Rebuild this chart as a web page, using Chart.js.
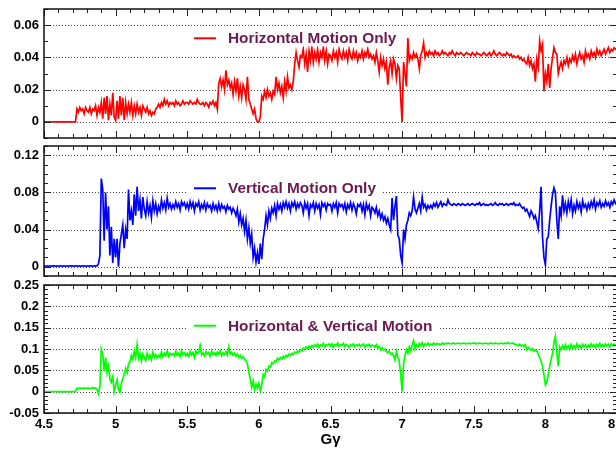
<!DOCTYPE html>
<html><head><meta charset="utf-8">
<script src="https://cdn.jsdelivr.net/npm/chart.js@4.4.0/dist/chart.umd.min.js"></script>
<style>
html,body{margin:0;padding:0;background:#fff;overflow:hidden;width:616px;height:449px;position:relative;}
canvas{position:absolute;left:0;}
</style></head><body>
<canvas id="c1" width="640" height="142" style="top:0px;width:640px;height:142px"></canvas>
<canvas id="c2" width="640" height="137" style="top:142px;width:640px;height:137px"></canvas>
<canvas id="c3" width="640" height="173" style="top:276px;width:640px;height:173px"></canvas>
<script>
// Sampling grid of G-gamma (x) values
const gammaStart = 4.5, gammaStep = 0.01;

// Panel 1 : Horizontal Motion Only (4.50 ... 8.50, one row per 0.1)
const horizontalOnly = [
0,0,0,0,0,0,0,0,0,0,
0,0,0,0,0,0,0,0,0,0,
0,0,0,.008,.006,.009,.007,.008,.005,.009,
.007,.006,.009,.005,.008,.007,.010,.004,.009,.006,
.012,.002,.015,.005,.016,.001,.011,.004,.018,.003,
.001,.013,.002,.016,.004,.015,.001,.012,.005,.011,
.006,.012,.004,.010,.005,.011,.006,.009,.004,.010,
.008,.006,.009,.005,.007,.004,.006,.005,.008,.009,
.011,.009,.012,.010,.014,.011,.013,.010,.012,.011,
.012,.010,.013,.011,.012,.010,.011,.013,.011,.012,
.012,.011,.013,.012,.011,.012,.011,.014,.012,.011,
.011,.012,.010,.012,.011,.009,.012,.011,.013,.010,
.012,.008,.024,.027,.022,.026,.020,.032,.023,.026,
.021,.024,.017,.025,.019,.027,.016,.022,.015,.023,
.020,.014,.028,.014,.011,.008,.005,.008,.002,.000,
.000,.003,.016,.014,.019,.015,.020,.016,.018,.014,
.019,.017,.028,.020,.024,.018,.022,.015,.025,.019,
.028,.021,.023,.020,.025,.036,.043,.038,.034,.041,
.040,.045,.036,.042,.031,.044,.038,.046,.037,.043,
.039,.045,.037,.043,.040,.046,.038,.044,.036,.042,
.041,.038,.044,.040,.043,.037,.045,.041,.039,.044,
.040,.043,.038,.045,.041,.039,.044,.040,.043,.038,
.042,.040,.044,.039,.043,.041,.045,.040,.042,.039,
.041,.037,.043,.038,.031,.040,.035,.039,.033,.037,
.023,.034,.038,.030,.039,.036,.027,.035,.033,.015,
.000,.037,.030,.022,.052,.038,.041,.039,.043,.040,
.042,.039,.033,.041,.044,.049,.040,.043,.041,.044,
.042,.043,.041,.044,.042,.043,.041,.042,.044,.042,
.043,.042,.041,.043,.042,.044,.042,.041,.043,.042,
.042,.043,.042,.041,.042,.043,.042,.042,.041,.043,
.042,.041,.043,.042,.042,.041,.042,.043,.042,.041,
.042,.043,.041,.042,.044,.042,.041,.042,.043,.042,
.041,.042,.041,.043,.042,.041,.042,.040,.041,.040,
.040,.041,.039,.040,.038,.039,.037,.036,.040,.035,
.038,.033,.036,.025,.039,.034,.050,.044,.048,.019,
.030,.025,.036,.021,.033,.040,.046,.043,.042,.030,
.034,.037,.033,.038,.036,.040,.035,.039,.037,.041,
.038,.042,.036,.040,.043,.039,.041,.037,.044,.040,
.042,.039,.044,.041,.043,.040,.045,.042,.044,.041,
.043,.045,.042,.044,.046,.043,.045,.044,.046,.045,
.046];

// Panel 2 : Vertical Motion Only
const verticalOnly = [
.001,.0005,.001,.0005,.001,.0005,.001,.001,.0005,.001,
.0005,.001,.001,.0005,.001,.0005,.001,.0005,.001,.001,
.001,.0005,.001,.001,.0005,.001,.0005,.001,.001,.0005,
.001,.0005,.001,.001,.0005,.001,.001,.001,.003,.012,
.095,.083,.028,.080,.040,.065,.012,.043,.004,.030,
.010,.030,.000,.025,.035,.045,.020,.040,.030,.083,
.050,.060,.045,.078,.055,.086,.060,.072,.052,.075,
.062,.055,.070,.058,.066,.053,.071,.060,.068,.057,
.065,.060,.072,.063,.069,.061,.074,.064,.068,.062,
.067,.063,.070,.064,.068,.061,.070,.066,.069,.063,
.068,.062,.070,.064,.069,.060,.068,.065,.070,.061,
.067,.063,.069,.061,.068,.064,.066,.060,.068,.062,
.066,.060,.068,.061,.067,.063,.065,.059,.066,.062,
.064,.058,.063,.060,.055,.062,.048,.057,.045,.052,
.038,.050,.030,.042,.025,.035,.010,.020,.005,.015,
.003,.025,.008,.030,.040,.055,.045,.060,.052,.063,
.058,.066,.055,.068,.062,.067,.060,.069,.064,.070,
.063,.068,.060,.069,.065,.070,.062,.068,.064,.069,
.066,.058,.069,.063,.068,.055,.067,.064,.069,.060,
.068,.063,.067,.056,.069,.065,.068,.061,.068,.066,
.067,.060,.068,.064,.069,.058,.068,.065,.067,.062,
.068,.059,.067,.063,.069,.061,.068,.064,.057,.067,
.065,.068,.060,.067,.056,.068,.062,.066,.055,.064,
.062,.058,.064,.055,.060,.052,.057,.050,.054,.047,
.052,.045,.040,.074,.050,.065,.076,.034,.030,.012,
.004,.040,.030,.045,.050,.058,.055,.060,.075,.062,
.058,.063,.068,.060,.075,.064,.067,.061,.066,.063,
.066,.063,.068,.065,.069,.064,.067,.070,.065,.068,
.067,.066,.072,.068,.067,.066,.068,.067,.066,.068,
.067,.066,.068,.067,.066,.067,.068,.066,.067,.068,
.067,.066,.068,.067,.069,.066,.067,.068,.066,.067,
.066,.067,.068,.066,.067,.069,.067,.066,.068,.067,
.068,.066,.067,.068,.066,.067,.068,.067,.069,.066,
.067,.066,.068,.065,.063,.064,.060,.062,.058,.054,
.060,.057,.052,.055,.048,.041,.060,.086,.032,.010,
.002,.030,.032,.050,.065,.078,.085,.080,.050,.030,
.065,.055,.077,.060,.068,.058,.070,.062,.072,.057,
.066,.060,.070,.063,.068,.059,.071,.064,.067,.061,
.068,.063,.070,.065,.072,.062,.069,.066,.071,.064,
.068,.065,.071,.066,.069,.064,.070,.067,.072,.068,
.070];

// Panel 3 : Horizontal & Vertical Motion
const horizVertical = [
0,0,0,0,0,0,0,0,0,0,
0,0,0,0,0,0,0,0,0,0,
0,0,0,.008,.007,.009,.008,.007,.009,.008,
.008,.009,.007,.008,.010,.008,.009,.006,-.005,.012,
.100,.088,.048,.080,.045,.060,.030,.022,.035,.000,
.015,.028,.005,-.001,.020,.030,.040,.055,.045,.065,
.070,.085,.075,.095,.080,.110,.078,.090,.072,.088,
.080,.073,.090,.078,.086,.075,.092,.080,.087,.079,
.085,.080,.093,.082,.090,.084,.095,.083,.090,.086,
.089,.083,.095,.085,.090,.082,.096,.087,.091,.084,
.090,.083,.094,.086,.092,.080,.095,.088,.093,.108,
.086,.091,.084,.094,.088,.092,.083,.095,.087,.091,
.085,.093,.088,.096,.084,.091,.087,.094,.086,.105,
.088,.092,.085,.090,.083,.088,.080,.085,.078,.082,
.076,.072,.065,.045,.030,.010,.025,.005,.018,.008,
.020,.002,.015,.040,.035,.052,.048,.060,.058,.068,
.065,.072,.070,.078,.074,.080,.077,.083,.079,.085,
.082,.088,.085,.090,.087,.093,.090,.095,.092,.098,
.096,.102,.099,.105,.101,.107,.103,.108,.104,.110,
.106,.111,.104,.110,.107,.113,.105,.110,.108,.112,
.107,.112,.104,.110,.108,.114,.106,.110,.109,.113,
.105,.111,.108,.103,.110,.107,.112,.106,.110,.108,
.111,.106,.109,.112,.104,.110,.107,.111,.105,.109,
.108,.104,.110,.102,.106,.098,.103,.097,.100,.094,
.092,.095,.088,.090,.085,.074,.094,.080,.070,.040,
.000,.065,.085,.098,.090,.105,.095,.110,.120,.100,
.110,.105,.113,.108,.115,.106,.112,.109,.114,.108,
.112,.109,.114,.110,.113,.111,.112,.110,.114,.111,
.113,.112,.114,.113,.112,.113,.114,.112,.113,.114,
.113,.112,.113,.114,.113,.112,.113,.113,.112,.114,
.113,.114,.112,.113,.114,.113,.112,.113,.114,.113,
.112,.113,.114,.113,.112,.114,.113,.112,.113,.114,
.113,.112,.114,.113,.115,.112,.113,.114,.112,.111,
.110,.108,.111,.107,.109,.106,.110,.098,.104,.100,
.097,.101,.095,.098,.096,.088,.080,.072,.060,.040,
.016,.022,.040,.060,.075,.090,.115,.130,.090,.060,
.105,.098,.108,.100,.110,.102,.107,.099,.111,.103,
.108,.101,.112,.104,.109,.102,.111,.105,.110,.103,
.109,.104,.112,.106,.110,.103,.111,.107,.113,.105,
.110,.106,.112,.107,.111,.105,.112,.108,.111,.109,
.110];

const seriesLabels = ['Horizontal Motion Only', 'Vertical Motion Only', 'Horizontal & Vertical Motion'];
const xTickValues = [4.5, 5, 5.5, 6, 6.5, 7, 7.5, 8, 8.5];
const xTickLabels = ['4.5', '5', '5.5', '6', '6.5', '7', '7.5', '8', '8.5'];
const xTitle = 'G\u03B3';
const yTicks1 = [0, 0.02, 0.04, 0.06];
const yLabels1 = ['0', '0.02', '0.04', '0.06'];
const yTicks2 = [0, 0.04, 0.08, 0.12];
const yLabels2 = ['0', '0.04', '0.08', '0.12'];
const yTicks3 = [-0.05, 0, 0.05, 0.1, 0.15, 0.2, 0.25];
const yLabels3 = ['-0.05', '0', '0.05', '0.1', '0.15', '0.2', '0.25'];

const FONT = "'Liberation Sans', Arial, Helvetica, sans-serif";

function toPoints(vals) {
  return vals.map((v, i) => ({ x: +(gammaStart + i * gammaStep).toFixed(2), y: v }));
}

const rootFrame = {
  id: 'rootFrame',
  beforeDatasetsDraw(chart, _a, o) {
    const { ctx, chartArea: a } = chart;
    const y = chart.scales.y;
    ctx.save();
    ctx.strokeStyle = '#444';
    ctx.lineWidth = 1;
    ctx.setLineDash([1, 2]);
    o.grid.forEach(v => {
      const py = Math.round(y.getPixelForValue(v)) + 0.5;
      ctx.beginPath(); ctx.moveTo(a.left, py); ctx.lineTo(a.right, py); ctx.stroke();
    });
    ctx.restore();
  },
  afterDraw(chart, _a, o) {
    const { ctx, chartArea: a } = chart;
    const x = chart.scales.x, y = chart.scales.y;
    const ds = chart.data.datasets[0];
    ctx.save();
    // legend
    ctx.font = 'bold 15.4px ' + FONT;
    const tw = ctx.measureText(ds.label).width;
    ctx.fillStyle = '#fff';
    ctx.fillRect(186, o.legendY - 8, 228 + tw + 6 - 186, 16);
    ctx.strokeStyle = ds.borderColor; ctx.lineWidth = 2;
    ctx.beginPath(); ctx.moveTo(194, o.legendY); ctx.lineTo(216, o.legendY); ctx.stroke();
    ctx.fillStyle = '#6b1a4f';
    ctx.textBaseline = 'alphabetic'; ctx.textAlign = 'left';
    ctx.fillText(ds.label, 228, o.legendY + 5);
    // ticks
    ctx.strokeStyle = '#222'; ctx.lineWidth = 1;
    const seg = (x0, y0, x1, y1) => { ctx.beginPath(); ctx.moveTo(x0, y0); ctx.lineTo(x1, y1); ctx.stroke(); };
    for (let k = Math.round(x.min / 0.1); k * 0.1 <= x.max + 1e-9; k++) {
      const v = k * 0.1;
      const px = Math.round(x.getPixelForValue(v)) + 0.5;
      const major = Math.abs(v / 0.5 - Math.round(v / 0.5)) < 1e-6;
      const len = major ? 7 : 4;
      seg(px, a.bottom, px, a.bottom - len);
      seg(px, a.top, px, a.top + len);
    }
    for (let k = Math.ceil(y.min / 0.01 - 1e-6); k * 0.01 <= y.max + 1e-9; k++) {
      const v = k * 0.01;
      const py = Math.round(y.getPixelForValue(v)) + 0.5;
      const major = Math.abs(v / o.major - Math.round(v / o.major)) < 1e-6;
      const len = major ? 7 : 4;
      seg(a.left, py, a.left + len, py);
      seg(a.right, py, a.right - len, py);
    }
    // frame
    ctx.lineWidth = 1.5; ctx.strokeStyle = '#111';
    ctx.strokeRect(a.left, a.top, a.right - a.left, a.bottom - a.top);
    ctx.restore();
  }
};

function makeChart(id, vals, label, color, yMin, yMax, yTicks, yLabels, major, legendY, padTop, padBottom, showX) {
  return new Chart(document.getElementById(id), {
    type: 'line',
    data: { datasets: [{ label, data: toPoints(vals), borderColor: color, borderWidth: 1.7,
      pointRadius: 0, tension: 0, fill: false }] },
    options: {
      responsive: false, animation: false, devicePixelRatio: 1,
      layout: { padding: { top: padTop, bottom: padBottom, left: 0, right: 23 } },
      plugins: { legend: { display: false }, tooltip: { enabled: false },
        rootFrame: { grid: yTicks, major, legendY } },
      scales: {
        x: {
          type: 'linear', min: 4.5, max: 8.5, display: showX,
          grid: { display: false, drawTicks: false }, border: { display: false },
          afterBuildTicks: s => { s.ticks = xTickValues.map(v => ({ value: v })); },
          afterFit: s => { s.height = showX ? 36 : 0; s.paddingLeft = 0; s.paddingRight = 0; },
          ticks: { autoSkip: false, maxRotation: 0, padding: 4, color: '#000',
            font: { family: FONT, weight: 'bold', size: 13 },
            callback: v => xTickLabels[xTickValues.indexOf(v)] },
          title: { display: showX, text: xTitle, color: '#000',
            font: { family: FONT, weight: 'bold', size: 15 }, padding: { top: 0, bottom: 0 } }
        },
        y: {
          type: 'linear', min: yMin, max: yMax,
          grid: { display: false, drawTicks: false }, border: { display: false },
          afterBuildTicks: s => { s.ticks = yTicks.map(v => ({ value: v })); },
          afterFit: s => { s.width = 44; s.paddingTop = 0; s.paddingBottom = 0; },
          ticks: { padding: 5, color: '#000', font: { family: FONT, weight: 'bold', size: 13 },
            callback: v => yLabels[yTicks.indexOf(v)] }
        }
      }
    },
    plugins: [rootFrame]
  });
}

makeChart('c1', horizontalOnly, seriesLabels[0], '#ff0000', -0.01, 0.07, yTicks1, yLabels1, 0.02, 38.3, 9, 4, false);
makeChart('c2', verticalOnly, seriesLabels[1], '#0000ff', -0.01, 0.13, yTicks2, yLabels2, 0.04, 46.3, 4, 3, false);
makeChart('c3', horizVertical, seriesLabels[2], '#00ff00', -0.05, 0.25, yTicks3, yLabels3, 0.05, 49.7, 9, 0, true);
</script>
</body></html>
